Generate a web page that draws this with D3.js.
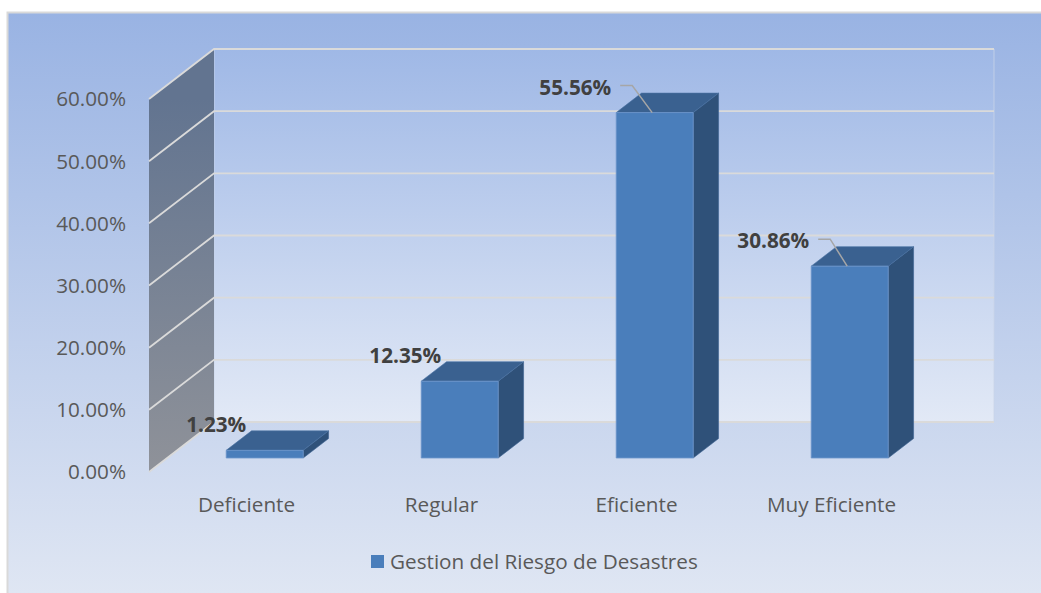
<!DOCTYPE html>
<html>
<head>
<meta charset="utf-8">
<script src="https://cdn.jsdelivr.net/npm/d3@7"></script>
<style>
  html, body { margin: 0; padding: 0; background: #ffffff; }
  svg { display: block; }
  text { font-family: "Open Sans", "Noto Sans", sans-serif; }
</style>
</head>
<body>
<svg id="chart" width="1041" height="593"></svg>
<script>
// ---- data ----
const categories = ["Deficiente", "Regular", "Eficiente", "Muy Eficiente"];
const values = [0.0123, 0.1235, 0.5556, 0.3086];
const valueLabels = ["1.23%", "12.35%", "55.56%", "30.86%"];
const tickValues = [0, 0.1, 0.2, 0.3, 0.4, 0.5, 0.6];
const seriesName = "Gestion del Riesgo de Desastres";

// ---- layout ----
const W = 1041, H = 593;
const depthDX = 65, depthDY = -50;       // full wall depth offset
const barZ0 = 0.28, barZ1 = 0.67;        // bar depth within the wall
const labelNudge = [0, 0, -25, -22];     // label horizontal nudge
const hasLeader = [false, false, true, true];
const FS = 20.7;

const svg = d3.select("#chart");
const defs = svg.append("defs");

function grad(id, stops, y1, y2) {
  const g = defs.append("linearGradient").attr("id", id)
    .attr("gradientUnits", "userSpaceOnUse")
    .attr("x1", 0).attr("x2", 0).attr("y1", y1).attr("y2", y2);
  stops.forEach(s => g.append("stop").attr("offset", s[0]).attr("stop-color", s[1]));
}
grad("bg", [[0, "#99b3e3"], [1, "#dfe6f3"]], 12, 593);
grad("wall", [[0, "#9fb8e6"], [1, "#e2e9f6"]], 48, 422);
grad("side", [[0, "#627490"], [1, "#8f9299"]], 99, 472);

// background + border
svg.append("rect").attr("x", 7.5).attr("y", 12.5).attr("width", W).attr("height", H)
  .attr("fill", "url(#bg)").attr("stroke", "#d9d9d9").attr("stroke-width", 2);

// scales (front plane, depth 0)
const y = d3.scaleLinear().domain([0, 0.6]).range([472, 99]);
const x = d3.scaleBand().domain(categories).range([149, 929]);
const proj = (px, py, z) => [px + depthDX * z, py + depthDY * z];

const xL = x.range()[0], xR = x.range()[1];

// back wall
const bw = [proj(xL, y(0), 1), proj(xL, y(0.6), 1), proj(xR, y(0.6), 1), proj(xR, y(0), 1)];
svg.append("polygon").attr("points", bw.map(p => p.join(",")).join(" "))
  .attr("fill", "url(#wall)").attr("stroke", "#c9d4e8").attr("stroke-width", 0.8);

// side wall
const sw = [proj(xL, y(0), 0), proj(xL, y(0.6), 0), proj(xL, y(0.6), 1), proj(xL, y(0), 1)];
svg.append("polygon").attr("points", sw.map(p => p.join(",")).join(" "))
  .attr("fill", "url(#side)");

// gridlines
const grid = svg.append("g").attr("stroke", "#dadada").attr("stroke-width", 1.8).attr("fill", "none");
tickValues.forEach(v => {
  const a = proj(xL, y(v), 0), b = proj(xL, y(v), 1), c = proj(xR, y(v), 1);
  grid.append("polyline").attr("points", [a, b, c].map(p => p.join(",")).join(" "));
});

// y tick labels
svg.append("g").selectAll("text").data(tickValues).join("text")
  .attr("x", 126).attr("y", d => y(d)).attr("dy", "0.36em")
  .attr("text-anchor", "end").attr("font-size", FS).attr("fill", "#595959")
  .text(d => d3.format(".2%")(d));

// category labels
svg.append("g").selectAll("text").data(categories).join("text")
  .attr("x", d => x(d) + x.bandwidth() / 2).attr("y", 512)
  .attr("text-anchor", "middle").attr("font-size", FS).attr("fill", "#595959")
  .text(d => d);

// bars
const barW = x.bandwidth() * 0.395;
const bars = svg.append("g");
categories.forEach((c, i) => {
  const cx = x(c) + x.bandwidth() / 2;
  const x0 = cx - barW / 2, x1 = cx + barW / 2;
  const v = values[i];
  const fTL = proj(x0, y(v), barZ0), fTR = proj(x1, y(v), barZ0);
  const fBL = proj(x0, y(0), barZ0), fBR = proj(x1, y(0), barZ0);
  const bTL = proj(x0, y(v), barZ1), bTR = proj(x1, y(v), barZ1);
  const bBR = proj(x1, y(0), barZ1);
  const pts = a => a.map(p => p.join(",")).join(" ");
  bars.append("polygon").attr("points", pts([fTR, bTR, bBR, fBR]))
    .attr("fill", "#2f5179").attr("stroke", "#3d6290").attr("stroke-width", 0.6);
  bars.append("polygon").attr("points", pts([fTL, bTL, bTR, fTR]))
    .attr("fill", "#3a6190").attr("stroke", "#4a72a3").attr("stroke-width", 0.6);
  bars.append("polygon").attr("points", pts([fTL, fTR, fBR, fBL]))
    .attr("fill", "#4a7ebb").attr("stroke", "#6e97cc").attr("stroke-width", 0.8);

  // data label
  const endX = fTL[0] + 20 + labelNudge[i];
  const base = fTL[1] - 18;
  svg.append("text").attr("x", endX).attr("y", base)
    .attr("text-anchor", "end").attr("font-size", FS).attr("font-weight", "bold")
    .attr("fill", "#404040").text(valueLabels[i]);
  if (hasLeader[i]) {
    const s = [endX + 9, base - 9], m = [endX + 21, base - 9], e = [fTL[0] + 36, fTL[1]];
    svg.append("polyline").attr("points", pts([s, m, e]))
      .attr("fill", "none").attr("stroke", "#a6a6a6").attr("stroke-width", 1.5);
  }
});

// legend
const lg = svg.append("g");
lg.append("rect").attr("x", 371).attr("y", 555).attr("width", 13).attr("height", 13).attr("fill", "#4a7ebb");
lg.append("text").attr("x", 390).attr("y", 562).attr("dy", "0.36em")
  .attr("font-size", FS).attr("fill", "#595959").text(seriesName);
</script>
</body>
</html>
